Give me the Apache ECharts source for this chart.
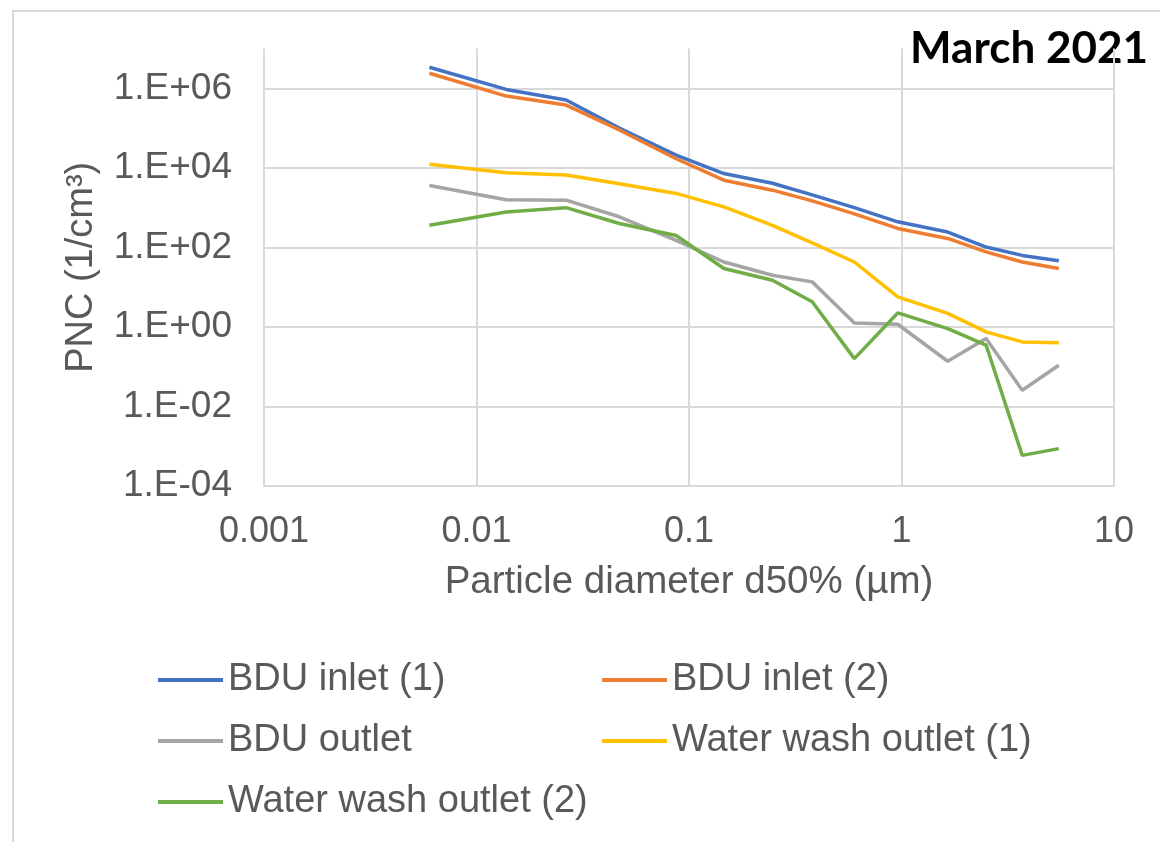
<!DOCTYPE html>
<html>
<head>
<meta charset="utf-8">
<script src="https://cdn.jsdelivr.net/npm/echarts@6/dist/echarts.min.js"></script>
<style>
  html, body { margin: 0; padding: 0; background: #ffffff; }
  #chart { width: 1160px; height: 842px; }
</style>
</head>
<body>
<div id="chart"></div>
<script>
// Particle diameter d50% (µm) of each impactor stage
const diameters = [0.006, 0.0138, 0.0264, 0.047, 0.087, 0.146, 0.247, 0.38, 0.60, 0.96, 1.65, 2.5, 3.7, 5.5];

// Particle number concentration (1/cm³) per stage
const bduInlet1 = [3.4e6, 9.4e5, 5.1e5, 1.0e5, 2.1e4, 7200, 4100, 2100, 1000, 440, 243, 102, 63, 46];
const bduInlet2 = [2.4e6, 6.4e5, 3.8e5, 9.0e4, 1.7e4, 4900, 2750, 1480, 700, 300, 168, 77, 43, 29.5];
const bduOutlet = [3600, 1580, 1540, 590, 150, 43, 20, 13.6, 1.26, 1.17, 0.137, 0.51, 0.0256, 0.109];
const waterWash1 = [12400, 7500, 6600, 4000, 2280, 1050, 360, 130, 43, 5.7, 2.2, 0.75, 0.42, 0.40];
const waterWash2 = [363, 780, 1000, 400, 200, 29.5, 15, 4.3, 0.16, 2.25, 0.91, 0.35, 5.9e-4, 8.7e-4];

const seriesNames = ['BDU inlet (1)', 'BDU inlet (2)', 'BDU outlet', 'Water wash outlet (1)', 'Water wash outlet (2)'];
const seriesValues = [bduInlet1, bduInlet2, bduOutlet, waterWash1, waterWash2];
const seriesColors = ['#4472C4', '#ED7D31', '#A5A5A5', '#FFC000', '#70AD47'];

// Tick labels: x for decades 10^-3 .. 10^1, y for every second decade 10^-4 .. 10^6
const xTickLabels = ['0.001', '0.01', '0.1', '1', '10'];
const yTickLabels = ['1.E-04', '1.E-02', '1.E+00', '1.E+02', '1.E+04', '1.E+06'];

const textGray = '#595959';
const gridGray = '#d9d9d9';
const baseFont = 'Liberation Sans';

const chart = echarts.init(document.getElementById('chart'), null, { renderer: 'canvas' });

const series = seriesNames.map((name, k) => ({
  name: name,
  type: 'line',
  symbol: 'none',
  color: seriesColors[k],
  lineStyle: { width: 3.5, color: seriesColors[k] },
  data: diameters.map((d, i) => [d, seriesValues[k][i]]),
  z: 2 + k
}));

const legendText = { fontFamily: baseFont, fontSize: 38, color: textGray, lineHeight: 40 };

chart.setOption({
  animation: false,
  backgroundColor: '#ffffff',
  grid: { left: 264, right: 46, top: 48.6, bottom: 356, containLabel: false },
  xAxis: {
    type: 'log',
    logBase: 10,
    min: 0.001,
    max: 10,
    name: 'Particle diameter d50% (µm)',
    nameLocation: 'middle',
    nameGap: 77,
    nameTextStyle: { fontFamily: baseFont, fontSize: 38.5, color: textGray },
    axisLine: { show: true, lineStyle: { color: gridGray, width: 2 } },
    axisTick: { show: false },
    axisLabel: {
      margin: 28,
      fontFamily: baseFont,
      fontSize: 36,
      color: textGray,
      formatter: v => xTickLabels[Math.round(Math.log10(v)) + 3] || ''
    },
    splitLine: { show: true, showMinLine: true, showMaxLine: true, lineStyle: { color: gridGray, width: 2 } },
    minorTick: { show: false },
    minorSplitLine: { show: false }
  },
  yAxis: {
    type: 'log',
    logBase: 100,
    min: 1e-4,
    max: 1e7,
    name: 'PNC (1/cm³)',
    nameLocation: 'middle',
    nameGap: 163,
    nameRotate: 90,
    nameTextStyle: { fontFamily: baseFont, fontSize: 38, color: textGray },
    axisLine: { show: false },
    axisTick: { show: false },
    axisLabel: {
      margin: 32,
      fontFamily: baseFont,
      fontSize: 37,
      color: textGray,
      showMaxLabel: false,
      formatter: v => {
        const e = Math.round(Math.log10(v));
        if (e % 2 !== 0) return '';
        return yTickLabels[(e + 4) / 2] || '';
      }
    },
    splitLine: { show: true, showMinLine: false, showMaxLine: false, lineStyle: { color: gridGray, width: 2 } }
  },
  legend: [
    {
      orient: 'vertical',
      left: 158,
      top: 660,
      padding: 0,
      icon: 'rect',
      itemWidth: 65,
      itemHeight: 4,
      itemGap: 21,
      selectedMode: false,
      textStyle: legendText,
      data: ['BDU inlet (1)', 'BDU outlet', 'Water wash outlet (2)']
    },
    {
      orient: 'vertical',
      left: 602,
      top: 660,
      padding: 0,
      icon: 'rect',
      itemWidth: 65,
      itemHeight: 4,
      itemGap: 21,
      selectedMode: false,
      textStyle: legendText,
      data: ['BDU inlet (2)', 'Water wash outlet (1)']
    }
  ],
  graphic: [
    {
      type: 'rect',
      silent: true,
      z: -10,
      shape: { x: 13, y: 11, width: 1200, height: 900 },
      style: { fill: 'none', stroke: gridGray, lineWidth: 2 }
    },
    {
      type: 'text',
      silent: true,
      x: 1148,
      y: 49,
      style: {
        text: 'March 2021',
        font: 'bold 44px Lato',
        fill: '#000000',
        align: 'right',
        verticalAlign: 'middle'
      }
    }
  ],
  series: series
});
</script>
</body>
</html>
